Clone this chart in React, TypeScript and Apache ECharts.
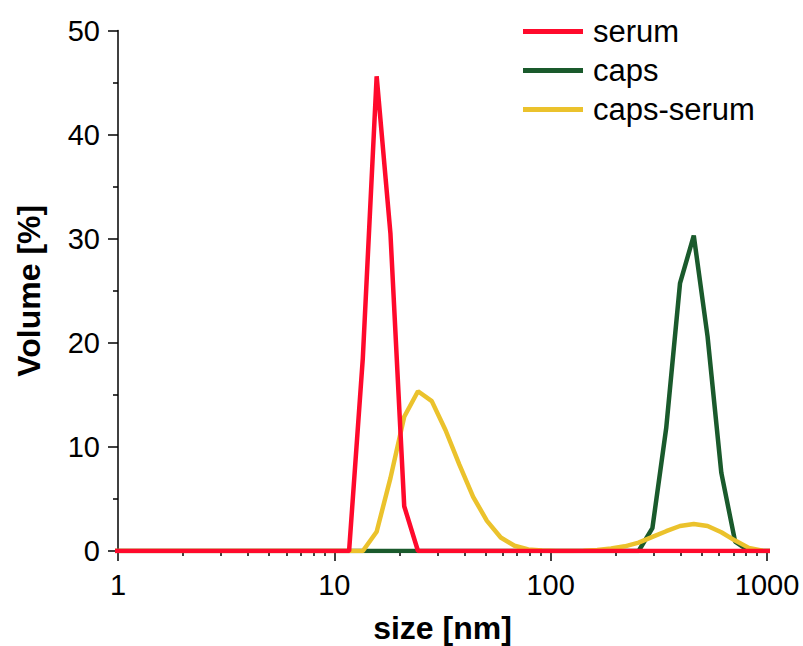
import React, { useEffect, useRef } from "react";
import * as echarts from "echarts";

// Size bins (nm), log-spaced as in a DLS instrument
const sizes = [
  0.9649, 1.117, 1.294, 1.499, 1.736, 2.01, 2.328, 2.696, 3.122, 3.615, 4.187, 4.849,
  5.615, 6.503, 7.531, 8.721, 10.1, 11.7, 13.54, 15.69, 18.17, 21.04, 24.36, 28.21,
  32.67, 37.84, 43.82, 50.75, 58.77, 68.06, 78.82, 91.28, 105.7, 122.4, 141.8, 164.2,
  190.1, 220.2, 255.0, 295.3, 342.0, 396.1, 458.7, 531.2, 615.1, 712.4, 825.0, 955.4, 1106,
];

const serum = [
  0, 0, 0, 0, 0, 0, 0, 0, 0, 0, 0, 0,
  0, 0, 0, 0, 0, 0, 18.5, 45.6, 30.5, 4.3, 0, 0,
  0, 0, 0, 0, 0, 0, 0, 0, 0, 0, 0, 0,
  0, 0, 0, 0, 0, 0, 0, 0, 0, 0, 0, 0, 0,
];

const caps = [
  0, 0, 0, 0, 0, 0, 0, 0, 0, 0, 0, 0,
  0, 0, 0, 0, 0, 0, 0, 0, 0, 0, 0, 0,
  0, 0, 0, 0, 0, 0, 0, 0, 0, 0, 0, 0,
  0, 0, 0, 2.2, 11.8, 25.7, 30.3, 20.6, 7.5, 0.9, 0, 0, 0,
];

const capsSerum = [
  0, 0, 0, 0, 0, 0, 0, 0, 0, 0, 0, 0,
  0, 0, 0, 0, 0, 0, 0, 1.85, 7.0, 12.9, 15.35, 14.4,
  11.6, 8.3, 5.2, 2.9, 1.3, 0.5, 0.15, 0.05, 0, 0, 0.02, 0.1,
  0.25, 0.45, 0.8, 1.35, 1.9, 2.4, 2.6, 2.4, 1.8, 1.0, 0.3, 0.02, 0,
];

const xMajorTicks = [1, 10, 100, 1000];
const xMinorTicks = [2, 3, 4, 5, 6, 7, 8, 9, 20, 30, 40, 50, 60, 70, 80, 90, 200, 300, 400, 500, 600, 700, 800, 900];

const legendNames = ["serum", "caps", "caps-serum"];
const colors = { serum: "#FF0A2C", caps: "#1A5A2C", capsSerum: "#EBC22C" };

const FONT = 'Arial, "Liberation Sans", sans-serif';

function pairs(vals: number[]) {
  return sizes.map((s, i) => [s, vals[i]]);
}

export default function App() {
  const ref = useRef<HTMLDivElement>(null);

  useEffect(() => {
    if (!ref.current) return;
    const chart = echarts.init(ref.current, undefined, { renderer: "svg" });
    chart.setOption({
      animation: false,
      backgroundColor: "#fff",
      grid: { left: 118, right: 36, top: 30.5, bottom: 95, containLabel: false, outerBoundsMode: "none" },
      legend: {
        data: legendNames,
        orient: "vertical",
        left: 523,
        top: 16,
        padding: 0,
        itemWidth: 60,
        itemHeight: 5,
        itemGap: 8,
        icon: "rect",
        textStyle: { fontFamily: FONT, fontSize: 31, color: "#000", lineHeight: 31, padding: [0, 0, 0, 5] },
      },
      xAxis: [
        {
          type: "log",
          logBase: 10,
          min: 1,
          max: 1000,
          name: "size [nm]",
          nameLocation: "middle",
          nameGap: 61,
          nameTextStyle: { fontFamily: FONT, fontSize: 32, fontWeight: "bold", color: "#000" },
          axisLine: { show: true, lineStyle: { color: "#000", width: 1.5 } },
          axisTick: { show: true, inside: false, length: 10, customValues: xMajorTicks, lineStyle: { color: "#000", width: 1.5 } },
          minorTick: { show: false },
          splitLine: { show: false },
          axisLabel: {
            fontFamily: FONT,
            fontSize: 29,
            color: "#000",
            margin: 19,
            customValues: xMajorTicks,
            formatter: (v: number) => String(v),
          },
        },
        {
          type: "log",
          logBase: 10,
          min: 1,
          max: 1000,
          position: "bottom",
          gridIndex: 0,
          axisLine: { show: false },
          axisTick: { show: true, inside: false, length: 5, customValues: xMinorTicks, lineStyle: { color: "#000", width: 1.5 } },
          axisLabel: { show: false },
          splitLine: { show: false },
        },
      ],
      yAxis: {
        type: "value",
        min: 0,
        max: 50,
        interval: 10,
        name: "Volume [%]",
        nameLocation: "middle",
        nameGap: 73,
        nameRotate: 90,
        nameTextStyle: { fontFamily: FONT, fontSize: 32, fontWeight: "bold", color: "#000" },
        axisLine: { show: true, lineStyle: { color: "#000", width: 1.5 } },
        axisTick: { show: true, inside: false, length: 10, lineStyle: { color: "#000", width: 1.5 } },
        minorTick: { show: true, splitNumber: 2, length: 5, lineStyle: { color: "#000", width: 1.5 } },
        splitLine: { show: false },
        axisLabel: { fontFamily: FONT, fontSize: 29, color: "#000", margin: 18 },
      },
      series: [
        {
          name: "caps",
          type: "line",
          data: pairs(caps),
          symbol: "none",
          clip: true,
          lineStyle: { color: colors.caps, width: 4.5 },
          itemStyle: { color: colors.caps },
          z: 2,
        },
        {
          name: "caps-serum",
          type: "line",
          data: pairs(capsSerum),
          symbol: "none",
          clip: true,
          lineStyle: { color: colors.capsSerum, width: 4.5 },
          itemStyle: { color: colors.capsSerum },
          z: 3,
        },
        {
          name: "serum",
          type: "line",
          data: pairs(serum),
          symbol: "none",
          clip: true,
          lineStyle: { color: colors.serum, width: 4.5 },
          itemStyle: { color: colors.serum },
          z: 4,
        },
      ],
    });
    return () => chart.dispose();
  }, []);

  return <div ref={ref} style={{ position: "absolute", left: 0, top: 0, width: 803, height: 646 }} />;
}
